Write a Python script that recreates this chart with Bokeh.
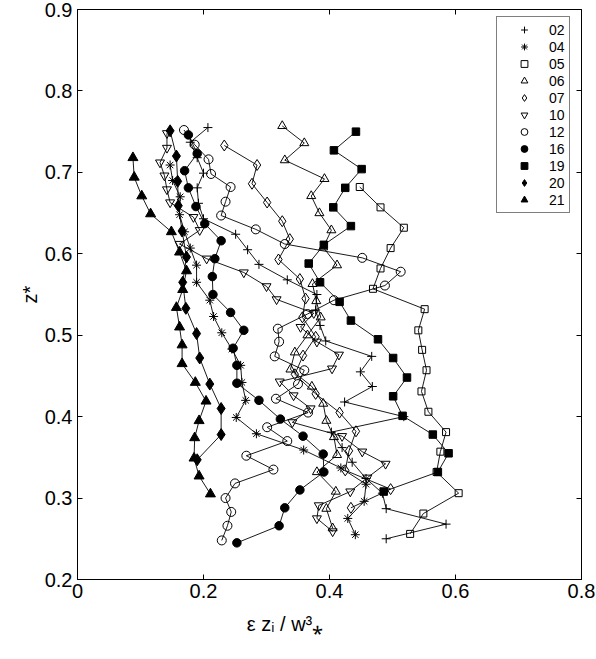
import math
from bokeh.plotting import figure
from bokeh.models import (Range1d, FixedTicker, LinearAxis, Legend, LegendItem)
from bokeh.embed import file_html
from bokeh.resources import INLINE

# ---------------- data ----------------
names = ["02", "04", "05", "06", "07", "10", "12", "16", "19", "20", "21"]

s02_x = [0.207, 0.179, 0.190, 0.200, 0.190, 0.192, 0.200, 0.251, 0.270, 0.288, 0.333, 0.380, 0.378, 0.385,
         0.394, 0.467, 0.449, 0.468, 0.424, 0.518, 0.403, 0.420, 0.436, 0.458, 0.484, 0.490, 0.585, 0.490]
s02_y = [0.755, 0.737, 0.718, 0.699, 0.681, 0.662, 0.643, 0.624, 0.605, 0.587, 0.568, 0.550, 0.531, 0.512,
         0.493, 0.474, 0.455, 0.437, 0.418, 0.400, 0.381, 0.362, 0.344, 0.324, 0.306, 0.287, 0.268, 0.250]

s04_x = [0.147, 0.151, 0.163, 0.162, 0.170, 0.179, 0.189, 0.189, 0.210, 0.216, 0.229, 0.245, 0.259, 0.261,
         0.267, 0.252, 0.284, 0.359, 0.418, 0.458, 0.455, 0.429, 0.441]
s04_y = [0.709, 0.690, 0.670, 0.648, 0.627, 0.607, 0.586, 0.565, 0.543, 0.523, 0.503, 0.483, 0.463, 0.442,
         0.420, 0.399, 0.379, 0.359, 0.337, 0.317, 0.296, 0.275, 0.255]

s05_x = [0.448, 0.481, 0.518, 0.497, 0.481, 0.469, 0.551, 0.541, 0.547, 0.554, 0.546, 0.557, 0.585, 0.576,
         0.570, 0.605, 0.549, 0.528]
s05_y = [0.682, 0.657, 0.632, 0.607, 0.582, 0.557, 0.532, 0.506, 0.482, 0.457, 0.431, 0.406, 0.381, 0.357,
         0.332, 0.306, 0.281, 0.256]

s06_x = [0.325, 0.360, 0.329, 0.392, 0.371, 0.384, 0.403, 0.390, 0.412, 0.373, 0.379, 0.386, 0.365, 0.345,
         0.338, 0.372, 0.390, 0.395, 0.407, 0.412, 0.380, 0.410, 0.395, 0.405]
s06_y = [0.757, 0.736, 0.715, 0.692, 0.671, 0.650, 0.629, 0.608, 0.586, 0.563, 0.542, 0.522, 0.500, 0.479,
         0.458, 0.437, 0.416, 0.395, 0.375, 0.353, 0.332, 0.308, 0.287, 0.263]

s07_x = [0.233, 0.285, 0.277, 0.301, 0.325, 0.337, 0.319, 0.353, 0.362, 0.357, 0.378, 0.358, 0.345, 0.378,
         0.416, 0.442, 0.431, 0.425, 0.497, 0.434]
s07_y = [0.733, 0.709, 0.686, 0.663, 0.640, 0.618, 0.593, 0.569, 0.545, 0.522, 0.498, 0.475, 0.452, 0.428,
         0.405, 0.382, 0.358, 0.334, 0.311, 0.288]

s10_x = [0.142, 0.142, 0.131, 0.138, 0.142, 0.147, 0.184, 0.194, 0.162, 0.205, 0.264, 0.300, 0.316, 0.375,
         0.354, 0.380, 0.415, 0.404, 0.321, 0.343, 0.370, 0.341, 0.420, 0.452, 0.489, 0.460, 0.433, 0.383,
         0.380, 0.405]
s10_y = [0.748, 0.730, 0.712, 0.696, 0.679, 0.663, 0.645, 0.629, 0.612, 0.594, 0.577, 0.560, 0.544, 0.527,
         0.510, 0.492, 0.476, 0.459, 0.443, 0.426, 0.410, 0.393, 0.376, 0.357, 0.342, 0.325, 0.308, 0.291,
         0.275, 0.259]

s12_x = [0.169, 0.186, 0.208, 0.212, 0.243, 0.235, 0.228, 0.283, 0.329, 0.452, 0.513, 0.488, 0.407, 0.365,
         0.318, 0.320, 0.313, 0.360, 0.350, 0.315, 0.366, 0.301, 0.333, 0.268, 0.311, 0.250, 0.235, 0.244,
         0.238, 0.229]
s12_y = [0.752, 0.734, 0.716, 0.698, 0.682, 0.664, 0.647, 0.630, 0.612, 0.595, 0.578, 0.561, 0.543, 0.526,
         0.508, 0.492, 0.474, 0.457, 0.440, 0.422, 0.405, 0.387, 0.370, 0.352, 0.335, 0.318, 0.300, 0.283,
         0.266, 0.248]

s16_x = [0.176, 0.190, 0.170, 0.176, 0.188, 0.202, 0.228, 0.218, 0.214, 0.215, 0.243, 0.264, 0.247, 0.253,
         0.253, 0.288, 0.322, 0.358, 0.390, 0.391, 0.353, 0.329, 0.320, 0.253]
s16_y = [0.746, 0.723, 0.702, 0.681, 0.658, 0.637, 0.616, 0.594, 0.572, 0.550, 0.528, 0.506, 0.484, 0.463,
         0.441, 0.420, 0.397, 0.376, 0.354, 0.332, 0.310, 0.288, 0.266, 0.245]

s19_x = [0.442, 0.407, 0.451, 0.425, 0.406, 0.434, 0.391, 0.367, 0.385, 0.416, 0.434, 0.477, 0.501, 0.523,
         0.501, 0.516, 0.564, 0.589, 0.572, 0.486]
s19_y = [0.750, 0.727, 0.704, 0.681, 0.657, 0.634, 0.611, 0.588, 0.565, 0.541, 0.518, 0.495, 0.472, 0.448,
         0.425, 0.401, 0.378, 0.355, 0.332, 0.308]

s20_x = [0.147, 0.157, 0.159, 0.160, 0.166, 0.173, 0.167, 0.172, 0.189, 0.194, 0.210, 0.228, 0.228, 0.190]
s20_y = [0.751, 0.720, 0.689, 0.659, 0.628, 0.596, 0.565, 0.533, 0.502, 0.472, 0.440, 0.410, 0.378, 0.347]

s21_x = [0.088, 0.090, 0.102, 0.116, 0.149, 0.162, 0.173, 0.167, 0.157, 0.162, 0.166, 0.166, 0.187, 0.204,
         0.193, 0.186, 0.185, 0.193, 0.211]
s21_y = [0.718, 0.694, 0.671, 0.649, 0.627, 0.602, 0.579, 0.556, 0.534, 0.510, 0.488, 0.465, 0.442, 0.419,
         0.395, 0.374, 0.349, 0.327, 0.305]

x_ticks = [0, 0.2, 0.4, 0.6, 0.8]
y_ticks = [0.2, 0.3, 0.4, 0.5, 0.6, 0.7, 0.8, 0.9]
x_tick_labels = ["0", "0.2", "0.4", "0.6", "0.8"]
y_tick_labels = ["0.2", "0.3", "0.4", "0.5", "0.6", "0.7", "0.8", "0.9"]
x_title = "\u03b5 z\u1d62 / w\u00b3\u204e"
y_title = "z*"

# ---------------- styles ----------------
FONT = "Liberation Sans"
styles = {
    "02": ("cross", 9, False),
    "04": ("asterisk", 9, False),
    "05": ("square", 7, False),
    "06": ("triangle", 9, False),
    "07": ("diamond", 11, False),
    "10": ("inverted_triangle", 9, False),
    "12": ("circle", 9, False),
    "16": ("circle", 8.5, True),
    "19": ("square", 7.5, True),
    "20": ("diamond", 12, True),
    "21": ("triangle", 10, True),
}
data = {
    "02": (s02_x, s02_y), "04": (s04_x, s04_y), "05": (s05_x, s05_y), "06": (s06_x, s06_y),
    "07": (s07_x, s07_y), "10": (s10_x, s10_y), "12": (s12_x, s12_y), "16": (s16_x, s16_y),
    "19": (s19_x, s19_y), "20": (s20_x, s20_y), "21": (s21_x, s21_y),
}

p = figure(width=596, height=659, output_backend="svg", toolbar_location=None,
           x_range=Range1d(0, 0.8), y_range=Range1d(0.2, 0.9),
           min_border_left=77, min_border_right=15, min_border_top=9, min_border_bottom=80)
p.grid.visible = False
p.outline_line_color = "black"
p.outline_line_width = 1
p.background_fill_color = "white"
p.border_fill_color = "white"

for ax, ticks, labels in ((p.xaxis[0], x_ticks, x_tick_labels), (p.yaxis[0], y_ticks, y_tick_labels)):
    ax.ticker = FixedTicker(ticks=ticks)
    ax.major_label_overrides = {t: l for t, l in zip(ticks, labels)}
    ax.major_tick_in = 5
    ax.major_tick_out = 0
    ax.minor_tick_line_color = None
    ax.axis_line_color = "black"
    ax.major_tick_line_color = "black"
    ax.major_label_text_font = FONT
    ax.major_label_text_font_size = "20px"
    ax.major_label_text_color = "black"
    ax.axis_label_text_font = FONT
    ax.axis_label_text_font_size = "20px"
    ax.axis_label_text_font_style = "normal"
    ax.axis_label_text_color = "black"
p.xaxis.major_label_standoff = 4
p.yaxis.major_label_standoff = 5

# x title: the reference centres it ~45 px left of the axis centre -> pad with trailing no-break spaces
p.xaxis.axis_label = x_title + "\u00a0" * 16
p.xaxis.axis_label_standoff = 12
p.yaxis.axis_label = y_title
p.yaxis.axis_label_standoff = 1

top = LinearAxis(ticker=FixedTicker(ticks=x_ticks), major_label_overrides={t: "" for t in x_ticks},
                 major_label_text_font_size="0px", major_label_standoff=0,
                 major_tick_in=5, major_tick_out=0, minor_tick_line_color=None, axis_line_color="black")
p.add_layout(top, "above")
right = LinearAxis(ticker=FixedTicker(ticks=y_ticks), major_label_overrides={t: "" for t in y_ticks},
                   major_label_text_font_size="0px", major_label_standoff=0,
                   major_tick_in=5, major_tick_out=0, minor_tick_line_color=None, axis_line_color="black")
p.add_layout(right, "right")

items = []
for n in names:
    xs, ys = data[n]
    marker, size, filled = styles[n]
    p.line(xs, ys, line_color="black", line_width=0.9)
    r = p.scatter(xs, ys, marker=marker, size=size, line_color="black", line_width=1,
                  fill_color="black" if filled else None)
    items.append(LegendItem(label=n, renderers=[r]))

legend = Legend(items=items, location=(419, 366), orientation="vertical",
                border_line_color="black", border_line_width=1, background_fill_color="white",
                background_fill_alpha=1.0, label_text_font=FONT, label_text_font_size="14px",
                label_text_color="black", padding=4, spacing=0, glyph_height=17, glyph_width=46,
                label_height=14, label_width=15, label_standoff=2, margin=0)
p.add_layout(legend, "center")

open("out.html", "w").write(file_html(p, INLINE))
